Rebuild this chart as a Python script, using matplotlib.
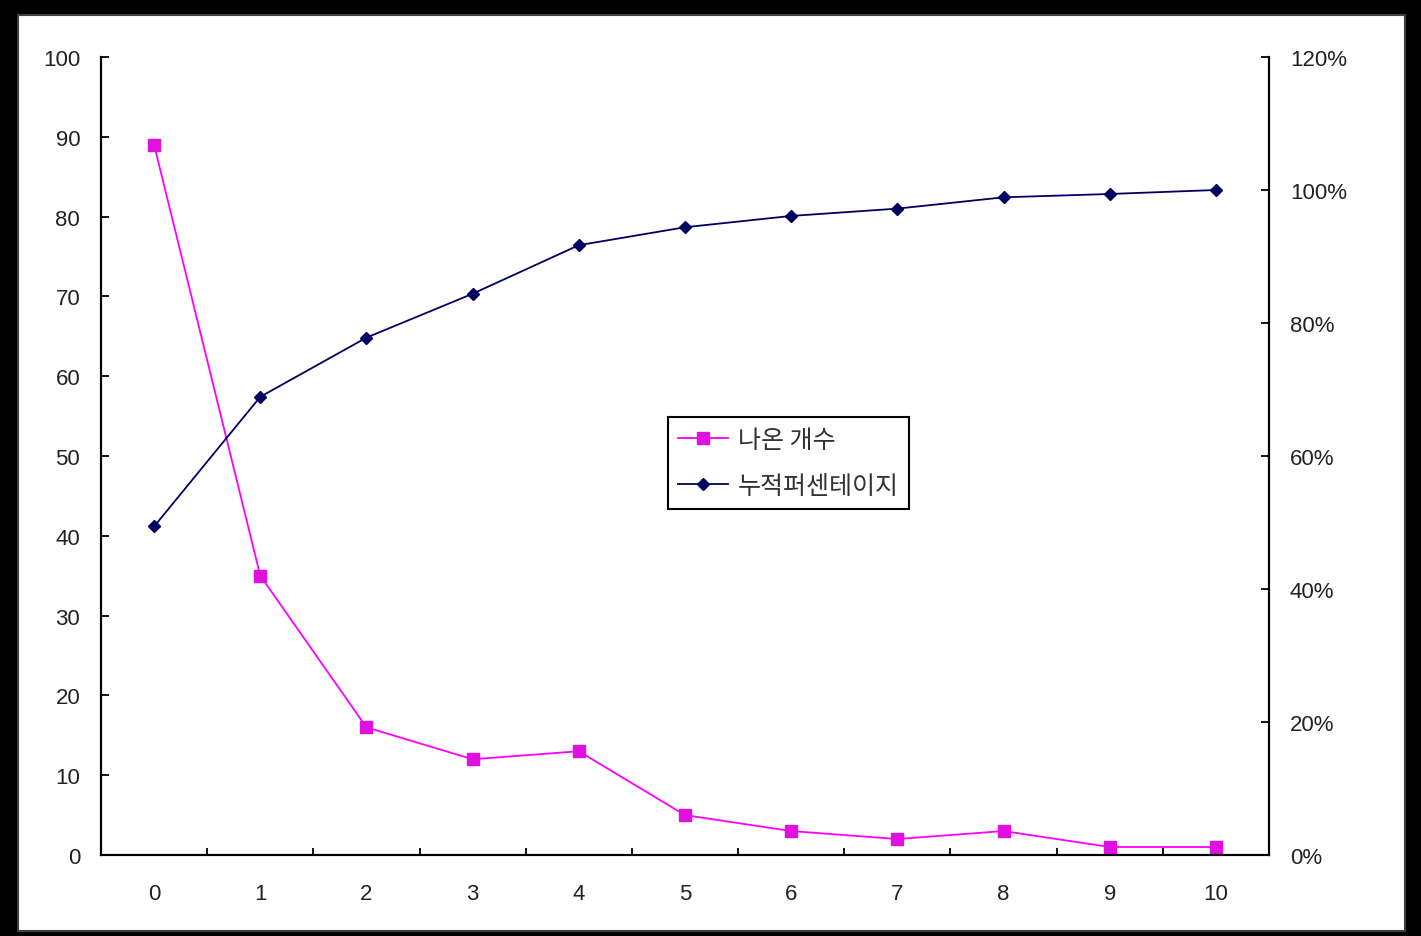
import numpy as np
import matplotlib.pyplot as plt
from matplotlib.patches import Rectangle
from matplotlib.ticker import FuncFormatter

plt.rcParams['font.family'] = ['Liberation Sans', 'Noto Sans CJK KR', 'DejaVu Sans']

# 데이터
categories = ['0', '1', '2', '3', '4', '5', '6', '7', '8', '9', '10']
counts = [89, 35, 16, 12, 13, 5, 3, 2, 3, 1, 1]
cum_percent = [49.4, 68.9, 77.8, 84.4, 91.7, 94.4, 96.1, 97.2, 98.9, 99.4, 100.0]
labels = ['나온 개수', '누적퍼센테이지']

W, H = 1421, 937
fig = plt.figure(figsize=(W / 100, H / 100), dpi=100, facecolor='black')

# 흰 배경 (검은 테두리 안쪽)
bg = Rectangle((18 / W, 1 - 932 / H), (1405 - 18) / W, (932 - 16) / H,
               transform=fig.transFigure, facecolor='white',
               edgecolor='#404040', linewidth=1.5, zorder=-10)
fig.add_artist(bg)

ax = fig.add_axes([101 / W, 1 - 856 / H, (1269 - 101) / W, (856 - 58) / H])
ax.set_facecolor('none')
ax2 = ax.twinx()

x = np.arange(len(categories))
l1, = ax.plot(x, counts, color='#FF00FF', linewidth=1.3, marker='s', markersize=8,
              markerfacecolor='#E010E0', markeredgecolor='#E010E0', label=labels[0])
l2, = ax2.plot(x, cum_percent, color='#000060', linewidth=1.3, marker='D', markersize=6,
               markerfacecolor='#000060', markeredgecolor='#000060', label=labels[1])

ax.set_xlim(-0.5, len(categories) - 0.5)
ax.set_ylim(0, 100)
ax2.set_ylim(0, 120)

ax.set_yticks(range(0, 101, 10))
ax2.set_yticks(range(0, 121, 20))
ax2.yaxis.set_major_formatter(FuncFormatter(lambda v, p: f'{int(v)}%'))

ax.set_xticks(x)
ax.set_xticklabels(categories)
ax.set_xticks(np.arange(-0.5, len(categories)), minor=True)

for a in (ax, ax2):
    a.spines['top'].set_visible(False)
    for s in ('left', 'right', 'bottom'):
        a.spines[s].set_linewidth(1.5)
        a.spines[s].set_color('black')

ax.tick_params(axis='x', which='major', length=0, pad=20, labelsize=16, colors='#222222')
ax.tick_params(axis='x', which='minor', direction='in', length=5, width=1.3)
ax.tick_params(axis='y', direction='in', length=6, width=1.3, pad=15, labelsize=16,
               labelcolor='#222222')
ax2.tick_params(axis='y', direction='in', length=6, width=1.3, pad=15, labelsize=16,
                labelcolor='#222222')

leg = ax2.legend([l1, l2], labels, loc='upper left',
                 bbox_to_anchor=(668 / W, 1 - 418 / H), bbox_transform=fig.transFigure,
                 fancybox=False, framealpha=1, edgecolor='black',
                 handlelength=2.0, handletextpad=0.4, borderpad=0.4, labelspacing=0.8,
                 borderaxespad=0,
                 prop={'family': ['Noto Sans CJK KR', 'DejaVu Sans'], 'size': 18})
leg.get_frame().set_linewidth(1.5)
for t in leg.get_texts():
    t.set_color('#333333')

fig.savefig('out.png', dpi=100, facecolor=fig.get_facecolor())
